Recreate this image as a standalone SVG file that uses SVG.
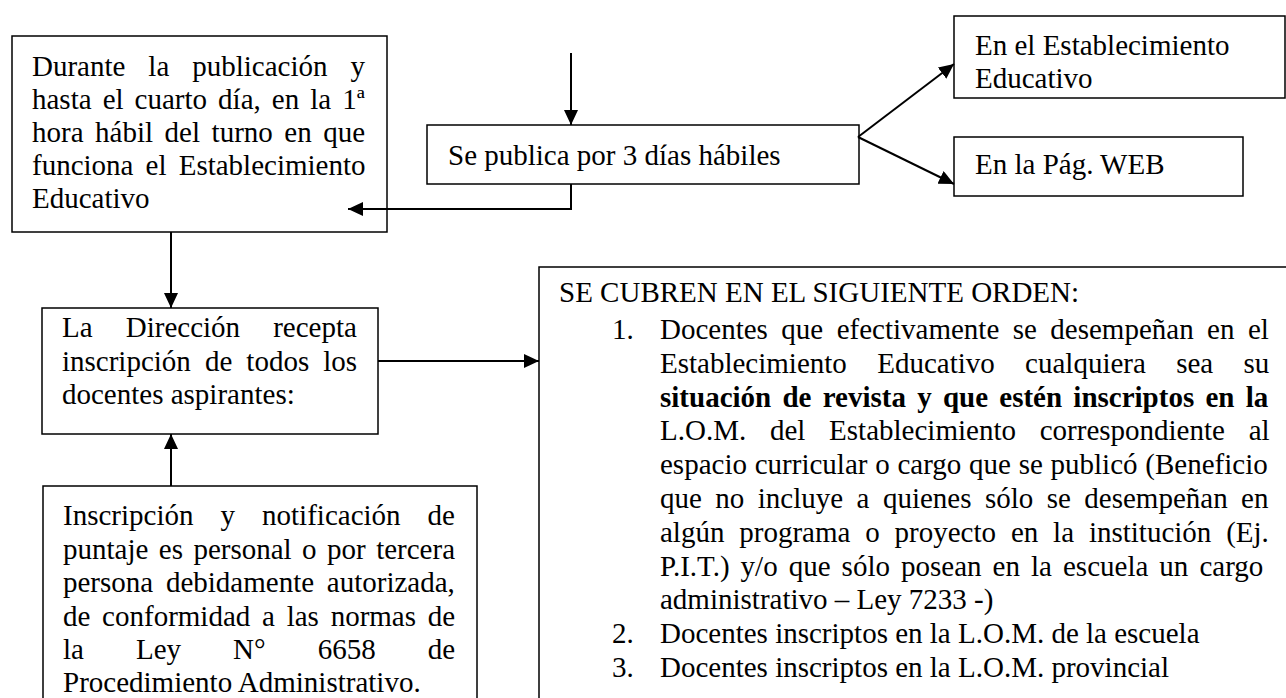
<svg xmlns="http://www.w3.org/2000/svg" width="1286" height="698" viewBox="0 0 1286 698">
<style>
.box{fill:#fff;stroke:#000;stroke-width:1.5}
.t{font-family:"Liberation Serif","Times New Roman",serif;font-size:29px;fill:#000}
.b{font-weight:bold}
.c{stroke:#000;stroke-width:2;fill:none}
</style>
<defs>
<marker id="ah" markerUnits="userSpaceOnUse" markerWidth="16" markerHeight="16" refX="15" refY="7" orient="auto">
<path d="M0,0 L15,7 L0,14 z" fill="#000"/>
</marker>
</defs>
<rect width="1286" height="698" fill="#fff"/>
<g id="n-durante">
<rect class="box" x="12" y="36" width="375" height="196"/>
<text class="t" x="32" y="76" word-spacing="15.7">Durante la publicación y</text>
<text class="t" x="32" y="109" word-spacing="3.8">hasta el cuarto día, en la 1ª</text>
<text class="t" x="32" y="142" word-spacing="4.3">hora hábil del turno en que</text>
<text class="t" x="32" y="175" word-spacing="4.9">funciona el Establecimiento</text>
<text class="t" x="32" y="208">Educativo</text>
</g>
<g id="n-publica">
<rect class="box" x="427" y="125" width="432" height="59"/>
<text class="t" x="448" y="165">Se publica por 3 días hábiles</text>
</g>
<g id="n-establecimiento">
<rect class="box" x="954" y="16" width="331" height="82"/>
<text class="t" x="975" y="55">En el Establecimiento</text>
<text class="t" x="975" y="88">Educativo</text>
</g>
<g id="n-web">
<rect class="box" x="954" y="137" width="289" height="59"/>
<text class="t" x="975" y="174">En la Pág. WEB</text>
</g>
<g id="n-direccion">
<rect class="box" x="42" y="308" width="336" height="126"/>
<text class="t" x="62" y="337" word-spacing="25.9">La Dirección recepta</text>
<text class="t" x="62" y="370.5" word-spacing="6.8">inscripción de todos los</text>
<text class="t" x="62" y="404">docentes aspirantes:</text>
</g>
<g id="n-inscripcion">
<rect class="box" x="43" y="486" width="434" height="260"/>
<text class="t" x="63" y="525.3" word-spacing="19.8">Inscripción y notificación de</text>
<text class="t" x="63" y="558.7" word-spacing="3.2">puntaje es personal o por tercera</text>
<text class="t" x="63" y="592.1" word-spacing="5.5">persona debidamente autorizada,</text>
<text class="t" x="63" y="625.5" word-spacing="4.5">de conformidad a las normas de</text>
<text class="t" x="63" y="658.9" word-spacing="44.8">la Ley N° 6658 de</text>
<text class="t" x="63" y="692.3">Procedimiento Administrativo.</text>
</g>
<g id="n-orden">
<rect class="box" x="539" y="267" width="800" height="500"/>
<text class="t" x="559" y="302">SE CUBREN EN EL SIGUIENTE ORDEN:</text>
<text class="t" x="612" y="339">1.</text>
<text class="t" x="660" y="339" word-spacing="6.2">Docentes que efectivamente se desempeñan en el</text>
<text class="t" x="660" y="372.8" word-spacing="23.1">Establecimiento Educativo cualquiera sea su</text>
<text class="t b" x="660" y="406.6" word-spacing="4.0">situación de revista y que estén inscriptos en la</text>
<text class="t" x="660" y="440.4" word-spacing="16.5">L.O.M. del Establecimiento correspondiente al</text>
<text class="t" x="660" y="474.2" word-spacing="0.5">espacio curricular o cargo que se publicó (Beneficio</text>
<text class="t" x="660" y="508" word-spacing="6.2">que no incluye a quienes sólo se desempeñan en</text>
<text class="t" x="660" y="541.8" word-spacing="7.6">algún programa o proyecto en la institución (Ej.</text>
<text class="t" x="660" y="575.6" word-spacing="3.8">P.I.T.) y/o que sólo posean en la escuela un cargo</text>
<text class="t" x="660" y="609.4">administrativo – Ley 7233 -)</text>
<text class="t" x="612" y="643.2">2.</text>
<text class="t" x="660" y="643.2">Docentes inscriptos en la L.O.M. de la escuela</text>
<text class="t" x="612" y="677">3.</text>
<text class="t" x="660" y="677">Docentes inscriptos en la L.O.M. provincial</text>
</g>
<g id="connectors">
<path class="c" d="M571,53 L571,125" marker-end="url(#ah)"/>
<path class="c" d="M571,184 L571,209 L348,209" marker-end="url(#ah)"/>
<path class="c" d="M858,137 L954,64" marker-end="url(#ah)"/>
<path class="c" d="M858,137 L954,184" marker-end="url(#ah)"/>
<path class="c" d="M171,232 L171,308" marker-end="url(#ah)"/>
<path class="c" d="M171,486 L171,434" marker-end="url(#ah)"/>
<path class="c" d="M378,361 L539,361" marker-end="url(#ah)"/>
</g>
</svg>
